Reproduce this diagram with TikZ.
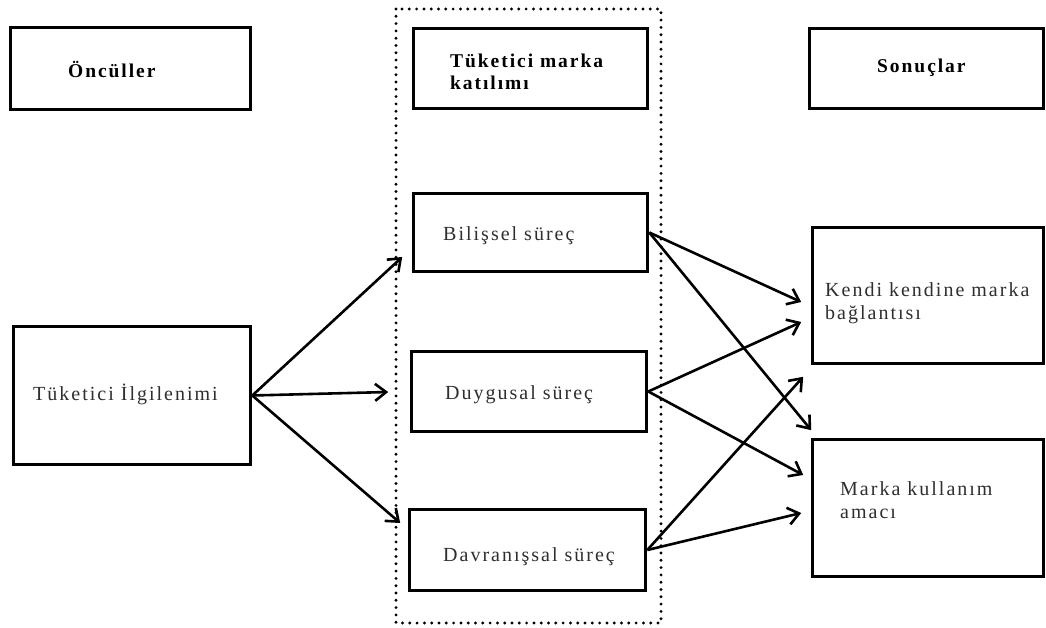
\documentclass[tikz,border=0pt]{standalone}
\usepackage{fontspec}
\setmainfont[LetterSpace=10]{Liberation Serif}
\usetikzlibrary{arrows.meta,calc}
\tikzset{
  box/.style={draw=black, line width=3.6pt, rectangle, inner sep=0pt},
  lbl/.style={anchor=west, inner sep=0pt, font=\fontsize{20}{23}\selectfont, text=black!82, align=left},
  hdr/.style={anchor=west, inner sep=0pt, font=\fontsize{19.5}{21.5}\selectfont\bfseries, text=black, align=left},
  conn/.style={draw=black, line width=2.6pt, -{Straight Barb[length=11pt,width=17pt,line width=2.6pt]}},
  dotbox/.style={draw=black, line width=3.2pt, line cap=round, dash pattern=on 0pt off 7.3pt}
}
\begin{document}
\begin{tikzpicture}[x=1pt,y=-1pt]
\useasboundingbox (0,0) rectangle (1046,628);
% dotted frame
\draw[dotbox] (396,9) rectangle (661,623);
% boxes
\node[box, minimum width=240pt, minimum height=82pt] (oncul) at (130.5,68.5) {};
\node[box, minimum width=234pt, minimum height=80pt] (katilim) at (530.5,68.5) {};
\node[box, minimum width=234pt, minimum height=80pt] (sonuc) at (926.5,68.5) {};
\node[box, minimum width=234pt, minimum height=78pt] (bilis) at (530.5,232.5) {};
\node[box, minimum width=235pt, minimum height=80pt] (duygu) at (529,391.5) {};
\node[box, minimum width=236pt, minimum height=81pt] (davran) at (527.5,550) {};
\node[box, minimum width=237pt, minimum height=138pt] (ilgi) at (132,395.5) {};
\node[box, minimum width=231pt, minimum height=136pt] (kendi) at (928,295.5) {};
\node[box, minimum width=231pt, minimum height=137pt] (marka) at (928,508) {};
% texts
\node[hdr] (toncul) at (68,70) {Öncüller};
\node[hdr] (tkatilim) at (450,72) {Tüketici marka\\katılımı};
\node[hdr] (tsonuc) at (877,68) {Sonuçlar};
\node[lbl] (tbilis) at (443,236) {Bilişsel süreç};
\node[lbl] (tduygu) at (445,395) {Duygusal süreç};
\node[lbl] (tdavran) at (443,557) {Davranışsal süreç};
\node[lbl] (tilgi) at (33,394) {Tüketici İlgilenimi};
\node[lbl] (tkendi) at (825,303) {Kendi kendine marka\\bağlantısı};
\node[lbl] (tmarka) at (840,500) {Marka kullanım\\amacı};
% connectors
\draw[conn] (ilgi.east) -- ($(bilis.west)+(-9.5,24.5)$);
\draw[conn] (ilgi.east) -- ($(duygu.west)+(-21.5,0.5)$);
\draw[conn] (ilgi.east) -- ($(davran.west)+(-7.5,-27)$);
\draw[conn] (bilis.east) -- ($(kendi.west)+(-9.5,6.5)$);
\draw[conn] (bilis.east) -- ($(marka.north west)+(0.5,-7.5)$);
\draw[conn] (duygu.east) -- ($(kendi.west)+(-9.5,26.5)$);
\draw[conn] (duygu.east) -- ($(marka.west)+(-7.5,-33)$);
\draw[conn] (davran.east) -- ($(kendi.south west)+(-7.5,11.5)$);
\draw[conn] (davran.east) -- ($(marka.west)+(-9.5,5)$);
\end{tikzpicture}
\end{document}
